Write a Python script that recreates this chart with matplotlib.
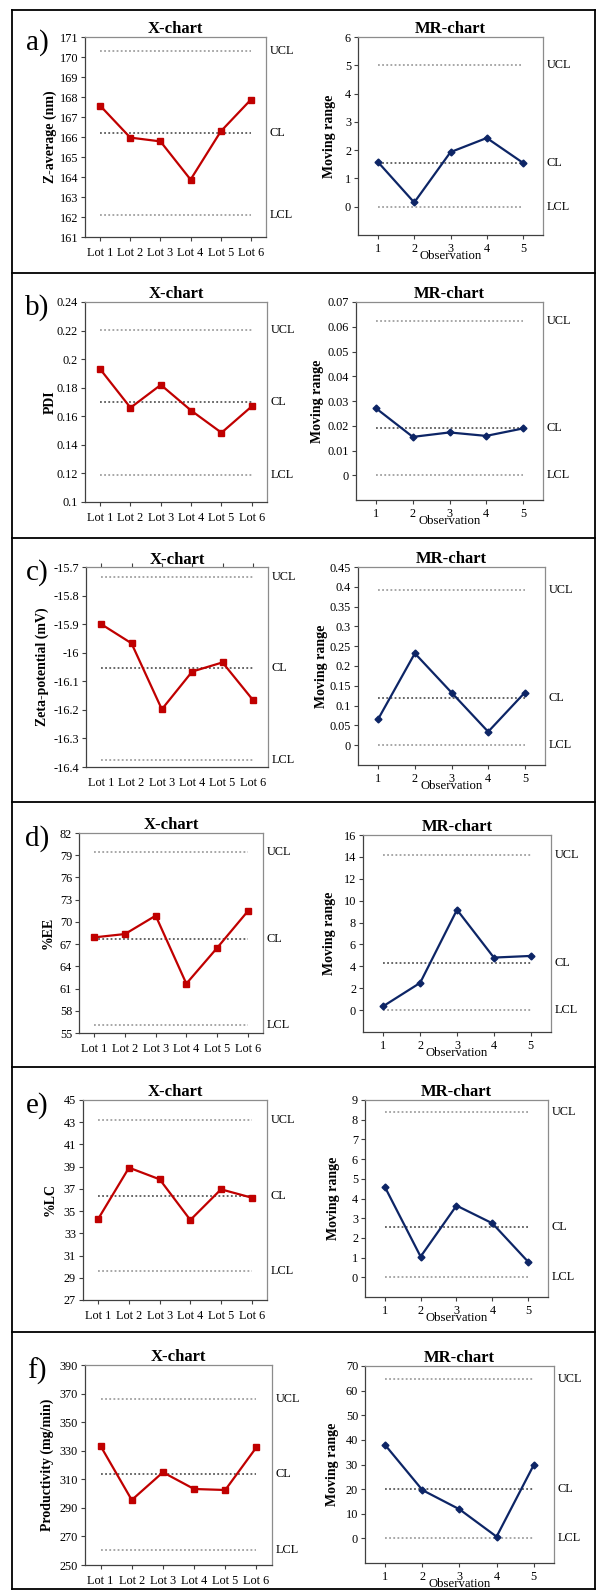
import numpy as np
import matplotlib
matplotlib.use('Agg')
import matplotlib.pyplot as plt
from matplotlib.lines import Line2D
from matplotlib.ticker import FormatStrFormatter

plt.rcParams['font.family'] = ['Liberation Serif', 'DejaVu Serif']
plt.rcParams['axes.unicode_minus'] = False

# Datos
lotes = ['Lot 1', 'Lot 2', 'Lot 3', 'Lot 4', 'Lot 5', 'Lot 6']
observaciones = [1, 2, 3, 4, 5]

# a) Z-average
zavg = [167.57, 165.97, 165.78, 163.87, 166.28, 167.87]
zavg_lim = [170.32, 166.22, 162.12]
zavg_mr = [1.58, 0.15, 1.93, 2.43, 1.55]
zavg_mr_lim = [5.02, 1.53, 0]

# b) PDI
pdi = [0.193, 0.166, 0.182, 0.164, 0.1485, 0.167]
pdi_lim = [0.2206, 0.1702, 0.1192]
pdi_mr = [0.027, 0.0155, 0.0173, 0.0159, 0.0189]
pdi_mr_lim = [0.0622, 0.0189, 0]

# c) Zeta-potential
zeta = [-15.90, -15.967, -16.198, -16.066, -16.034, -16.165]
zeta_lim = [-15.736, -16.055, -16.374]
zeta_mr = [0.066, 0.232, 0.133, 0.034, 0.133]
zeta_mr_lim = [0.393, 0.12, 0]

# d) %EE
ee = [67.91, 68.36, 70.84, 61.66, 66.47, 71.42]
ee_lim = [79.39, 67.73, 56.12]
ee_mr = [0.36, 2.49, 9.17, 4.80, 4.95]
ee_mr_lim = [14.21, 4.34, 0]

# e) %LC
lc = [34.32, 38.91, 37.86, 34.2, 36.96, 36.21]
lc_lim = [43.2, 36.39, 29.58]
lc_mr = [4.60, 1.05, 3.64, 2.74, 0.78]
lc_mr_lim = [8.39, 2.57, 0]

# f) Productividad
prod = [333.3, 295.5, 314.9, 303.2, 302.5, 332.4]
prod_lim = [366.2, 313.5, 260.7]
prod_mr = [37.8, 19.6, 11.8, 0.7, 29.7]
prod_mr_lim = [64.9, 19.9, 0]

# Marcas de los ejes y
ticks_x = [np.arange(161, 172, 1), np.round(np.arange(0.10, 0.241, 0.02), 2),
           np.round(np.arange(-16.4, -15.65, 0.1), 1), np.arange(55, 83, 3),
           np.arange(27, 46, 2), np.arange(250, 391, 20)]
ticks_mr = [np.arange(0, 7, 1), np.round(np.arange(0, 0.071, 0.01), 2),
            np.round(np.arange(0, 0.451, 0.05), 2), np.arange(0, 17, 2),
            np.arange(0, 10, 1), np.arange(0, 71, 10)]
mr_inferior = [-1, -0.01, -0.05, -2, -1, -10]

etiquetas = ['a)', 'b)', 'c)', 'd)', 'e)', 'f)']
ylabels_x = ['Z-average (nm)', 'PDI', 'Zeta-potential (mV)', '%EE', '%LC',
             'Productivity (mg/min)']
nombres_lim = ['UCL', 'CL', 'LCL']

series_x = [(zavg, zavg_lim), (pdi, pdi_lim), (zeta, zeta_lim), (ee, ee_lim),
            (lc, lc_lim), (prod, prod_lim)]
series_mr = [(zavg_mr, zavg_mr_lim), (pdi_mr, pdi_mr_lim), (zeta_mr, zeta_mr_lim),
             (ee_mr, ee_mr_lim), (lc_mr, lc_mr_lim), (prod_mr, prod_mr_lim)]

# Cajas de los ejes en pixeles (izq, arriba, der, abajo)
W, H = 597, 1591
cajas_x = [(85, 37, 266, 237), (85, 302, 267, 502), (86, 567, 268, 767),
           (79, 833, 263, 1033), (83, 1100, 267, 1300), (85, 1365, 272, 1565)]
cajas_mr = [(358, 37, 543, 235), (356, 302, 543, 500), (358, 567, 545, 765),
            (363, 835, 551, 1032), (365, 1100, 548, 1297), (365, 1366, 554, 1563)]
sep_ylabel_x = [35, 35, 44, 31, 33, 38]
sep_ylabel_mr = [29, 39, 36, 34, 31, 32]

fig = plt.figure(figsize=(W / 100, H / 100), dpi=100)


def crear_ejes(caja):
    l, t, r, b = caja
    return fig.add_axes([l / W, 1 - b / H, (r - l) / W, (b - t) / H])


def estilo(ax):
    for lado in ['top', 'right']:
        ax.spines[lado].set_color('#8c8c8c')
    for lado in ['left', 'bottom']:
        ax.spines[lado].set_color('#404040')
    for s in ax.spines.values():
        s.set_linewidth(0.9)
    ax.tick_params(direction='out', length=3, width=0.8, color='#404040',
                   labelsize=8.8, pad=2)


def lineas_control(ax, x, limites):
    colores = ['#a0a0a0', '#5a5a5a', '#a0a0a0']
    for val, nombre, col in zip(limites, nombres_lim, colores):
        ax.plot([x[0], x[-1]], [val, val], color=col, lw=1.3,
                linestyle=(0, (1, 1.3)), zorder=1)
        ax.annotate(nombre, xy=(1, val), xycoords=('axes fraction', 'data'),
                    xytext=(2.5, 0), textcoords='offset points',
                    ha='left', va='center', fontsize=8.8)


for i in range(6):
    # X-chart
    ax = crear_ejes(cajas_x[i])
    estilo(ax)
    valores, limites = series_x[i]
    x = np.arange(1, len(lotes) + 1)
    lineas_control(ax, x, limites)
    ax.plot(x, valores, color='#c00000', lw=1.6, marker='s', ms=5, zorder=3)
    ax.set_xlim(0.5, 6.5)
    ax.set_ylim(ticks_x[i][0], ticks_x[i][-1])
    ax.set_yticks(ticks_x[i])
    ax.yaxis.set_major_formatter(FormatStrFormatter('%g'))
    ax.set_xticks(x)
    ax.set_xticklabels(lotes)
    if i == 2:
        # el eje horizontal cruza arriba en el grafico de zeta
        ax.tick_params(axis='x', bottom=False, top=True, labelbottom=True, pad=4)
    else:
        ax.tick_params(axis='x', pad=4)
    ax.set_title('X-chart', fontsize=12, fontweight='bold', pad=2)
    ax.set_ylabel(ylabels_x[i], fontsize=10, fontweight='bold', va='center')
    ax.yaxis.set_label_coords(-sep_ylabel_x[i] / (cajas_x[i][2] - cajas_x[i][0]), 0.5)
    fig.text(37 / W, 1 - (cajas_x[i][1] + 6) / H, etiquetas[i], fontsize=21,
             ha='center', va='center')

    # MR-chart
    ax = crear_ejes(cajas_mr[i])
    estilo(ax)
    valores, limites = series_mr[i]
    lineas_control(ax, observaciones, limites)
    ax.plot(observaciones, valores, color='#0d2566', lw=1.6, marker='D', ms=3.5,
            zorder=3)
    ax.set_xlim(0.45, 5.55)
    ax.set_ylim(mr_inferior[i], ticks_mr[i][-1])
    ax.set_yticks(ticks_mr[i])
    ax.yaxis.set_major_formatter(FormatStrFormatter('%g'))
    ax.set_xticks(observaciones)
    ax.tick_params(axis='x', pad=3)
    ax.set_title('MR-chart', fontsize=12, fontweight='bold', pad=2)
    ax.set_xlabel('Observation', fontsize=9.2, labelpad=-4)
    ax.set_ylabel('Moving range', fontsize=10, fontweight='bold', va='center')
    ax.yaxis.set_label_coords(-sep_ylabel_mr[i] / (cajas_mr[i][2] - cajas_mr[i][0]), 0.5)

# Marco exterior y separadores de filas
borde = dict(color='black', lw=1.3, transform=fig.transFigure)
izq, der = 12 / W, 595 / W
for y in [10, 273, 538, 802, 1067, 1332, 1589]:
    fig.add_artist(Line2D([izq, der], [1 - y / H, 1 - y / H], **borde))
fig.add_artist(Line2D([izq, izq], [1 - 10 / H, 1 - 1589 / H], **borde))
fig.add_artist(Line2D([der, der], [1 - 10 / H, 1 - 1589 / H], **borde))

fig.savefig('out.png', dpi=100)
